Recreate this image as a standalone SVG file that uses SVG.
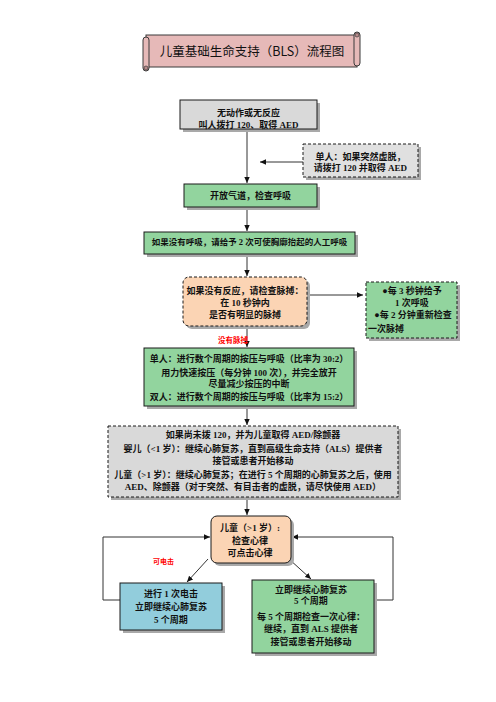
<svg xmlns="http://www.w3.org/2000/svg" width="496" height="702" viewBox="0 0 496 702">
<defs>
<style>
.box{stroke:#1a1a1a;stroke-width:1}
.dash{stroke-dasharray:3 2}
.sh{fill:#a9a9a9}
.gray{fill:#d9d9d9}
.green{fill:#92d49e}
.peach{fill:#fbd4b4}
.blue{fill:#92cddc}
.t{font-family:"Liberation Serif","Noto Sans CJK SC",serif;font-size:9px;font-weight:bold;text-anchor:middle;fill:#111}
.red{font-family:"Noto Sans CJK SC",sans-serif;font-size:7.5px;font-weight:bold;fill:#ff0000;text-anchor:middle}
.ln{stroke:#333;stroke-width:1;fill:none}
</style>
<marker id="ah" viewBox="0 0 10 10" refX="10" refY="5" markerWidth="6" markerHeight="6" markerUnits="userSpaceOnUse" orient="auto">
<path d="M0,0.5 L10,5 L0,9.5 z" fill="#111"/>
</marker>
</defs>
<rect width="496" height="702" fill="#ffffff"/>

<g id="title">
<rect x="146" y="35" width="211" height="32" fill="#e6b9b8" stroke="#3a3a3a" stroke-width="1"/>
<rect x="143" y="37" width="6" height="34" rx="3" fill="#e6b9b8" stroke="#3a3a3a" stroke-width="1"/>
<rect x="354" y="32" width="6" height="34" rx="3" fill="#e6b9b8" stroke="#3a3a3a" stroke-width="1"/>
<circle cx="357" cy="35" r="2" fill="#b88a8a" stroke="#3a3a3a" stroke-width="0.7"/>
<circle cx="146" cy="68" r="2" fill="#b88a8a" stroke="#3a3a3a" stroke-width="0.7"/>
<text x="252" y="55.5" style="font-family:'Noto Sans CJK SC',sans-serif;font-size:12.5px;text-anchor:middle;fill:#111">儿童基础生命支持（BLS）流程图</text>
</g>

<g id="connectors">
<line class="ln" x1="247" y1="130" x2="247" y2="183" marker-end="url(#ah)"/>
<line class="ln" x1="303" y1="162" x2="260" y2="162" marker-end="url(#ah)"/>
<line class="ln" x1="247" y1="207" x2="247" y2="231" marker-end="url(#ah)"/>
<line class="ln" x1="247" y1="254" x2="247" y2="276" marker-end="url(#ah)"/>
<line class="ln" x1="307" y1="295" x2="363" y2="295" marker-end="url(#ah)"/>
<line class="ln" x1="247" y1="326" x2="247" y2="347" marker-end="url(#ah)"/>
<line class="ln" x1="247" y1="406" x2="247" y2="425" marker-end="url(#ah)"/>
<line class="ln" x1="247" y1="497" x2="247" y2="515" marker-end="url(#ah)"/>
<line class="ln" x1="208" y1="559" x2="187" y2="582" marker-end="url(#ah)"/>
<line class="ln" x1="289" y1="559" x2="311" y2="579" marker-end="url(#ah)"/>
<polyline class="ln" points="120,600 103,600 103,537 210,537" marker-end="url(#ah)"/>
<polyline class="ln" points="374,600 393,600 393,537 292,537" marker-end="url(#ah)"/>
</g>

<g id="n-start">
<rect class="sh" x="183" y="103" width="137" height="29"/>
<rect class="box gray" x="180" y="100" width="137" height="29"/>
<text class="t" x="248.5" y="116">无动作或无反应</text>
<text class="t" x="248.5" y="127.5">叫人拨打 120、取得 AED</text>
</g>

<g id="n-single">
<rect class="sh" x="306" y="147" width="115" height="33"/>
<rect class="box gray dash" x="303" y="144" width="115" height="33" style="fill:#e0e0e0"/>
<text class="t" x="360.5" y="159.5">单人：如果突然虚脱，</text>
<text class="t" x="360.5" y="170.7">请拨打 120 并取得 AED</text>
</g>

<g id="n-airway">
<rect class="sh" x="187" y="187" width="133" height="23"/>
<rect class="box green" x="184" y="184" width="133" height="23"/>
<text class="t" x="250.5" y="198.5">开放气道，检查呼吸</text>
</g>

<g id="n-breaths">
<rect class="sh" x="147" y="235" width="211" height="22"/>
<rect class="box green" x="144" y="232" width="211" height="22"/>
<text class="t" x="249.5" y="245" style="font-size:8.5px">如果没有呼吸，请给予 2 次可使胸廓抬起的人工呼吸</text>
</g>

<g id="n-pulse">
<rect class="sh" x="186" y="280" width="124" height="49" rx="6"/>
<rect class="box peach dash" x="183" y="277" width="124" height="49" rx="6"/>
<text class="t" x="245" y="293.5">如果没有反应，请检查脉搏：</text>
<text class="t" x="245" y="305.7">在 10 秒钟内</text>
<text class="t" x="245" y="317.7">是否有明显的脉搏</text>
</g>

<g id="n-rescue">
<rect class="sh" x="369" y="285" width="91" height="56"/>
<rect class="box green dash" x="366" y="282" width="91" height="56"/>
<text class="t" x="412" y="294.4">●每 3 秒钟给予</text>
<text class="t" x="412" y="306.4">1 次呼吸</text>
<text class="t" x="413" y="318.4">●每 2 分钟重新检查</text>
<text class="t" x="368" y="332.4" style="text-anchor:start">一次脉搏</text>
</g>

<text class="red" x="233" y="342.7">没有脉搏</text>

<g id="n-cpr">
<rect class="sh" x="147" y="351" width="210" height="58"/>
<rect class="box green" x="144" y="348" width="210" height="58"/>
<text class="t" x="249" y="361.7">单人：进行数个周期的按压与呼吸（比率为 30:2）</text>
<text class="t" x="249" y="376">用力快速按压（每分钟 100 次），并完全放开</text>
<text class="t" x="249" y="386.7">尽量减少按压的中断</text>
<text class="t" x="249" y="400">双人：进行数个周期的按压与呼吸（比率为 15:2）</text>
</g>

<g id="n-aed">
<rect class="sh" x="111" y="429" width="290" height="71"/>
<rect class="box gray dash" x="108" y="426" width="290" height="71"/>
<text class="t" x="253" y="438.4">如果尚未拨 120，并为儿童取得 AED/除颤器</text>
<text class="t" x="253" y="451.7">婴儿（&lt;1 岁）：继续心肺复苏，直到高级生命支持（ALS）提供者</text>
<text class="t" x="253" y="464">接管或患者开始移动</text>
<text class="t" x="253" y="477.7">儿童（&gt;1 岁）：继续心肺复苏；在进行 5 个周期的心肺复苏之后，使用</text>
<text class="t" x="253" y="490">AED、除颤器（对于突然、有目击者的虚脱，请尽快使用 AED）</text>
</g>

<g id="n-rhythm">
<rect class="sh" x="214" y="519" width="80" height="47" rx="6"/>
<rect class="box peach" x="211" y="516" width="80" height="47" rx="6"/>
<text class="t" x="250" y="530.7">儿童（&gt;1 岁）:</text>
<text class="t" x="250" y="544.4">检查心律</text>
<text class="t" x="250" y="556">可点击心律</text>
</g>

<text class="red" x="163.5" y="563.5" style="font-size:7px">可电击</text>

<g id="n-shock">
<rect class="sh" x="123" y="586" width="102" height="47"/>
<rect class="box blue" x="120" y="583" width="102" height="47"/>
<text class="t" x="171" y="596.7">进行 1 次电击</text>
<text class="t" x="171" y="610">立即继续心肺复苏</text>
<text class="t" x="171" y="622.7">5 个周期</text>
</g>

<g id="n-noshock">
<rect class="sh" x="255" y="583" width="122" height="73"/>
<rect class="box green" x="252" y="580" width="122" height="73"/>
<text class="t" x="311" y="593.4">立即继续心肺复苏</text>
<text class="t" x="311" y="604">5 个周期</text>
<text class="t" x="311" y="620">每 5 个周期检查一次心律：</text>
<text class="t" x="311" y="631.7">继续，直到 ALS 提供者</text>
<text class="t" x="311" y="645">接管或患者开始移动</text>
</g>
</svg>
